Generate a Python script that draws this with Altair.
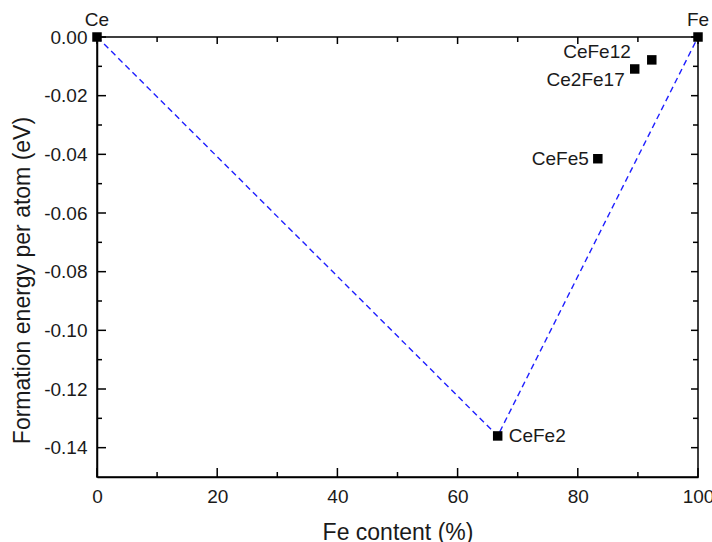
import altair as alt
import pandas as pd

# Compounds in the Ce-Fe system: Fe content (%) and formation energy (eV/atom)
names = ["Ce", "Fe", "CeFe2", "CeFe5", "Ce2Fe17", "CeFe12"]
fe_content = [0.0, 100.0, 66.67, 83.33, 89.47, 92.31]
energy = [0.0, 0.0, -0.136, -0.0415, -0.0109, -0.0078]
label_side = ["top", "top", "right", "left", "left_low", "left_high"]

# Convex hull connecting the stable phases
hull_names = ["Ce", "CeFe2", "Fe"]

# Axis tick positions
x_major = [0, 20, 40, 60, 80, 100]
x_minor = [10, 30, 50, 70, 90]
y_major = [0.0, -0.02, -0.04, -0.06, -0.08, -0.10, -0.12, -0.14]
y_minor = [-0.01, -0.03, -0.05, -0.07, -0.09, -0.11, -0.13]

W, H = 601, 440
FONT = "Liberation Sans"
INK = "#1a1a1a"

pts = pd.DataFrame({"name": names, "fe": fe_content, "e": energy, "side": label_side})
hull = pts.set_index("name").loc[hull_names].reset_index()
hull["order"] = range(len(hull))

xs = alt.Scale(domain=[0, 100], nice=False)
ys = alt.Scale(domain=[-0.15, 0.0], nice=False)

x_axis = alt.Axis(values=x_major, ticks=False, grid=False, domainColor="black",
                  domainWidth=1.5, labelFont=FONT, labelFontSize=19, labelColor=INK,
                  labelPadding=10, labelFlush=False, labelOverlap=False,
                  title="Fe content (%)", titleFont=FONT,
                  titleFontSize=23, titleFontWeight="normal", titleColor=INK,
                  titlePadding=15)
y_axis = alt.Axis(values=y_major, ticks=False, grid=False, domainColor="black",
                  domainWidth=1.5, labelFont=FONT, labelFontSize=19, labelColor=INK,
                  labelPadding=10, labelFlush=False, labelOverlap=False,
                  labelExpr="replace(format(datum.value, '.2f'), '\u2212', '-')",
                  title="Formation energy per atom (eV)", titleFont=FONT,
                  titleFontSize=23, titleFontWeight="normal", titleColor=INK,
                  titleBaseline="middle", titleAlign="center", titleAngle=270,
                  titleX=-75, titleY=243)

line = alt.Chart(hull).mark_line(color="#1f1fff", strokeDash=[6, 4], strokeWidth=1.4).encode(
    x=alt.X("fe:Q", scale=xs, axis=x_axis),
    y=alt.Y("e:Q", scale=ys, axis=y_axis),
    order="order:Q",
)

points = alt.Chart(pts).mark_square(color="black", size=90, opacity=1, clip=False).encode(
    x=alt.X("fe:Q", scale=xs), y=alt.Y("e:Q", scale=ys)
)


def labels(side, **kw):
    return alt.Chart(pts).transform_filter(alt.datum.side == side).mark_text(
        font=FONT, fontSize=19, color=INK, **kw
    ).encode(x=alt.X("fe:Q", scale=xs), y=alt.Y("e:Q", scale=ys), text="name:N")


lbl_top = labels("top", align="center", baseline="alphabetic", dy=-11)
lbl_right = labels("right", align="left", baseline="middle", dx=11, dy=0)
lbl_left = labels("left", align="right", baseline="middle", dx=-9, dy=0)
lbl_low = labels("left_low", align="right", baseline="middle", dx=-10, dy=11)
lbl_high = labels("left_high", align="right", baseline="middle", dx=-21, dy=-8)


def xticks(vals, y0, y1):
    return alt.Chart(pd.DataFrame({"v": vals})).mark_rule(color="black", strokeWidth=1.5).encode(
        x=alt.X("v:Q", scale=xs), y=alt.value(y0), y2=alt.value(y1)
    )


def yticks(vals, x0, x1):
    return alt.Chart(pd.DataFrame({"v": vals})).mark_rule(color="black", strokeWidth=1.5).encode(
        y=alt.Y("v:Q", scale=ys), x=alt.value(x0), x2=alt.value(x1)
    )


ticks = [
    xticks(x_major, H, H - 9), xticks(x_minor, H, H - 5),
    xticks(x_major, 0, 7), xticks(x_minor, 0, 5),
    yticks(y_major, 0, 9), yticks(y_minor, 0, 5),
    yticks(y_major, W, W - 7), yticks(y_minor, W, W - 5),
]

chart = alt.layer(
    line, *ticks, points, lbl_top, lbl_right, lbl_left, lbl_low, lbl_high
).properties(
    width=W, height=H,
    autosize=alt.AutoSizeParams(type="none"),
    padding={"left": 97, "top": 37, "right": 14, "bottom": 65},
    background="white",
).configure_view(stroke="black", strokeWidth=1.5)

chart.save("out.html", embed_options={"renderer": "svg", "actions": False})
